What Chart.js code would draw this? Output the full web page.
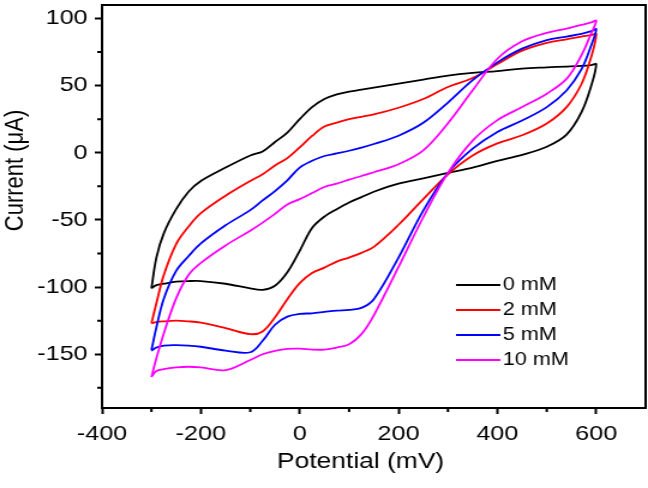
<!DOCTYPE html>
<html>
<head>
<meta charset="utf-8">
<script src="https://cdn.jsdelivr.net/npm/chart.js@4.4.1/dist/chart.umd.min.js"></script>
<style>
  html, body { margin: 0; padding: 0; background: #fff; }
</style>
</head>
<body>
<!-- the reference lettering is wider than it is tall, so the chart is drawn 540 wide and shown at 648 -->
<canvas id="cv" width="540" height="488" style="display:block;width:648px;height:488px"></canvas>
<script>
// --- data ---
const labels = ['0 mM', '2 mM', '5 mM', '10 mM'];
const colors = ['#000000', '#ff0000', '#0000ff', '#ff00ff'];
const xTitle = 'Potential (mV)';
const yTitle = 'Current (μA)';

// potential grid (mV), used for both sweeps
const potential = [-300, -290, -275, -250, -225, -200, -150, -100, -75, -50, -25, 0, 25, 50, 75,
                   100, 125, 150, 200, 250, 300, 350, 400, 450, 500, 540, 570, 590, 600];

// current (uA), forward sweep (upper branch) and return sweep (lower branch)
const fwd0 = [-101, -78, -60, -42, -29, -21, -11, -2, 1, 8, 15, 25, 34, 40, 43.5,
              45.5, 47, 48.5, 51.5, 54.5, 57.5, 59.5, 60.8, 62.7, 63.6, 64.2, 64.7, 65.3, 66];
const rev0 = [-101, -98.5, -97.5, -96, -95.5, -95.5, -97.5, -101, -102, -99, -89, -73, -56, -47.5, -42,
              -37, -33, -29, -23, -19, -15, -11, -6, -1.5, 4.5, 13.5, 30, 50, 66];

const fwd2 = [-127, -112, -91, -68, -55, -45, -32, -21, -16, -9.5, -4, 4, 12.5, 19.5, 22.5,
              25, 26.8, 28.5, 33.5, 40, 49, 55.6, 66, 76, 81.8, 84.5, 86.5, 87.5, 88.4];
const rev2 = [-127, -126, -125.5, -125, -125.5, -126.5, -130.5, -135, -133, -122.5, -109, -97, -89.5, -85.5, -81,
              -78, -74.5, -70, -53.6, -34.5, -16, -2, 7, 13, 21.8, 34, 51, 71.5, 88.4];

const fwd5 = [-147, -130, -108.7, -88, -77, -67.5, -54, -42.7, -35.5, -28.5, -20.5, -11, -6, -2.4, -0.5,
              1.5, 3.8, 6.5, 12.7, 22.3, 37.4, 54, 67.3, 77.5, 83.9, 86.5, 88.5, 90.5, 92];
const rev5 = [-147.4, -145, -143.5, -143.2, -143.5, -144.4, -147.3, -148.5, -140, -128, -122, -120, -119.5, -118.5, -117.5,
              -117, -115.5, -109, -78, -43, -15, 3, 15.5, 24, 34, 46.4, 62, 80, 92];

const fwd10 = [-167, -153, -134.5, -108.4, -91, -82, -69, -58, -52, -45.5, -38.5, -34.5, -30, -25.5, -23,
               -20, -17.3, -14.5, -8.5, 1.8, 22, 46.5, 70, 83, 89.3, 92.5, 95.2, 97, 98.3];
const rev10 = [-166.8, -162.5, -161, -159.8, -159.3, -159.8, -161.8, -154.3, -150, -147.5, -146, -145.8, -146.5, -146.5, -145,
               -142.5, -135, -121, -85, -48, -15, 9, 24.3, 34, 44, 55, 72.5, 89, 98.3];

const xTicks = [-400, -200, 0, 200, 400, 600];
const yTicks = [-150, -100, -50, 0, 50, 100];
const xMinor = [-300, -100, 100, 300, 500];
const yMinor = [-175, -125, -75, -25, 25, 75];
// ----------------------------------

const FONT = "'Liberation Sans', Arial, sans-serif";
Chart.defaults.font.family = FONT;
Chart.defaults.color = '#000';

// one closed CV loop: out along the forward sweep, back along the return sweep
function loop(fwd, rev) {
  const pts = potential.map((p, i) => ({ x: p, y: fwd[i] }));
  for (let i = potential.length - 2; i >= 0; i--) pts.push({ x: potential[i], y: rev[i] });
  return pts;
}

const curves = [[fwd0, rev0], [fwd2, rev2], [fwd5, rev5], [fwd10, rev10]];

// frame, minor ticks, axis titles (they sit a little off centre in the original)
// and the legend in the lower right
const extras = {
  id: 'extras',
  afterDraw(chart) {
    const { ctx, chartArea: a, scales: { x, y } } = chart;
    ctx.save();
    ctx.strokeStyle = '#000';
    ctx.lineWidth = 2;
    ctx.strokeRect(a.left, a.top, a.right - a.left, a.bottom - a.top);

    ctx.beginPath();
    xMinor.forEach(v => {
      const px = x.getPixelForValue(v);
      ctx.moveTo(px, a.bottom);
      ctx.lineTo(px, a.bottom + 4);
    });
    yMinor.forEach(v => {
      const py = y.getPixelForValue(v);
      ctx.moveTo(a.left, py);
      ctx.lineTo(a.left - 4, py);
    });
    ctx.stroke();

    ctx.fillStyle = '#000';
    ctx.font = '22px ' + FONT;
    ctx.textAlign = 'center';
    ctx.textBaseline = 'middle';
    ctx.fillText(xTitle, (a.left + a.right) / 2 - 11, chart.height - 26);
    ctx.save();
    ctx.translate(13, (a.top + a.bottom) / 2 - 36);
    ctx.rotate(-Math.PI / 2);
    ctx.fillText(yTitle, 0, 0);
    ctx.restore();

    ctx.font = '18px ' + FONT;
    ctx.textAlign = 'left';
    chart.data.datasets.forEach((ds, i) => {
      const yy = a.bottom - 123 + i * 25;
      ctx.strokeStyle = ds.borderColor;
      ctx.lineWidth = 1.8;
      ctx.beginPath();
      ctx.moveTo(a.right - 158, yy);
      ctx.lineTo(a.right - 121, yy);
      ctx.stroke();
      ctx.fillText(ds.label, a.right - 119, yy);
    });
    ctx.restore();
  }
};

new Chart(document.getElementById('cv'), {
  type: 'scatter',
  data: {
    datasets: curves.map((c, i) => ({
      label: labels[i],
      data: loop(c[0], c[1]),
      showLine: true,
      borderColor: colors[i],
      backgroundColor: colors[i],
      borderWidth: 1.8,
      tension: 0.35,
      pointRadius: 0,
      order: 3 - i
    }))
  },
  options: {
    responsive: false,
    animation: false,
    devicePixelRatio: 1,
    events: [],
    layout: { padding: { top: 5, right: 2, left: 0, bottom: 0 } },
    plugins: { legend: { display: false }, tooltip: { enabled: false } },
    scales: {
      x: {
        type: 'linear',
        min: -400,
        max: 700,
        afterBuildTicks: s => { s.ticks = xTicks.map(v => ({ value: v })); },
        afterFit: s => { s.height = 80; s.paddingLeft = 0; s.paddingRight = 0; },
        ticks: { font: { size: 21 }, padding: 8, maxRotation: 0, autoSkip: false },
        grid: { drawOnChartArea: false, tickLength: 6, tickWidth: 2, tickColor: '#000' },
        border: { color: '#000', width: 2 }
      },
      y: {
        type: 'linear',
        min: -190,
        max: 110,
        afterBuildTicks: s => { s.ticks = yTicks.map(v => ({ value: v })); },
        afterFit: s => { s.width = 85; s.paddingTop = 0; s.paddingBottom = 0; },
        ticks: { font: { size: 21 }, padding: 6, autoSkip: false },
        grid: { drawOnChartArea: false, tickLength: 6, tickWidth: 2, tickColor: '#000' },
        border: { color: '#000', width: 2 }
      }
    }
  },
  plugins: [extras]
});
</script>
</body>
</html>
